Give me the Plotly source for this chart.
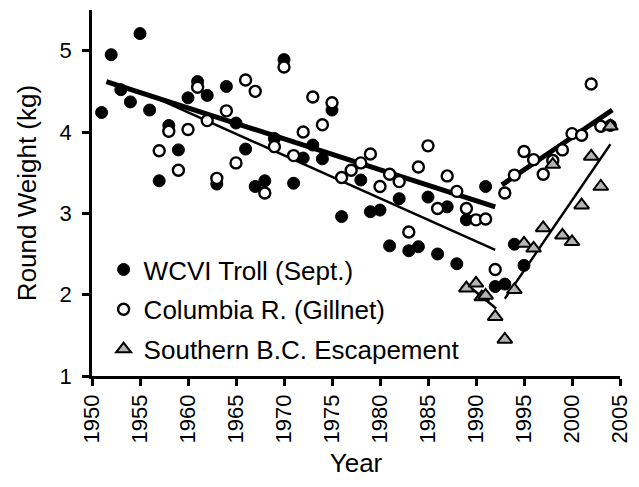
import plotly.graph_objects as go

# WCVI Troll (Sept.) - filled circles
wcvi_years = [1951, 1952, 1953, 1954, 1955, 1956, 1957, 1958, 1959, 1960, 1961, 1962, 1963, 1964,
              1965, 1966, 1967, 1968, 1969, 1970, 1971, 1972, 1973, 1974, 1975, 1976, 1978, 1979,
              1980, 1981, 1982, 1983, 1984, 1985, 1986, 1987, 1988, 1989, 1991, 1992, 1993, 1994,
              1995, 2004]
wcvi_vals = [4.24, 4.95, 4.52, 4.37, 5.21, 4.27, 3.40, 4.08, 3.78, 4.42, 4.62, 4.45, 3.36, 4.56,
             4.11, 3.79, 3.33, 3.40, 3.92, 4.89, 3.37, 3.68, 3.84, 3.67, 4.27, 2.96, 3.41, 3.02,
             3.04, 2.60, 3.18, 2.54, 2.59, 3.20, 2.50, 3.08, 2.38, 2.92, 3.33, 2.10, 2.13, 2.62,
             2.36, 4.08]

# Columbia R. (Gillnet) - open circles
col_years = [1957, 1958, 1959, 1960, 1961, 1962, 1963, 1964, 1965, 1966, 1967, 1968, 1969, 1970,
             1971, 1972, 1973, 1974, 1975, 1976, 1977, 1978, 1979, 1980, 1981, 1982, 1983, 1984,
             1985, 1986, 1987, 1988, 1989, 1990, 1991, 1992, 1993, 1994, 1995, 1996, 1997, 1998,
             1999, 2000, 2001, 2002, 2003]
col_vals = [3.77, 4.01, 3.53, 4.03, 4.55, 4.14, 3.43, 4.26, 3.62, 4.64, 4.50, 3.25, 3.82, 4.80,
            3.71, 4.00, 4.43, 4.09, 4.36, 3.44, 3.53, 3.62, 3.73, 3.33, 3.48, 3.39, 2.77, 3.57,
            3.83, 3.06, 3.46, 3.27, 3.06, 2.92, 2.93, 2.31, 3.25, 3.47, 3.76, 3.66, 3.48, 3.65,
            3.78, 3.98, 3.96, 4.59, 4.07]

# Southern B.C. Escapement - grey triangles
sbc_years = [1989, 1990, 1990.6, 1991, 1992, 1993, 1994, 1995, 1996, 1997, 1998, 1999, 2000,
             2001, 2002, 2003, 2004]
sbc_vals = [2.08, 2.14, 1.97, 1.99, 1.73, 1.45, 2.06, 2.63, 2.57, 2.82, 3.60, 2.73, 2.65,
            3.10, 3.70, 3.33, 4.07]

# Trend lines (end points)
wcvi_trend_years = [1951.5, 1992]
wcvi_trend_vals = [4.62, 3.08]
col_trend1_years = [1957, 1992]
col_trend1_vals = [4.40, 2.55]
col_trend2_years = [1992.7, 2004.2]
col_trend2_vals = [3.35, 4.27]
sbc_trend1_years = [1989.3, 1992.1]
sbc_trend1_vals = [2.10, 1.83]
sbc_trend2_years = [1993, 2004]
sbc_trend2_vals = [1.95, 3.85]

x_ticks = list(range(1950, 2006, 5))
y_ticks = [1, 2, 3, 4, 5]

FONT = "Arial, Liberation Sans, Helvetica, sans-serif"

fig = go.Figure()

# trend lines
for xs, ys, w in [(wcvi_trend_years, wcvi_trend_vals, 5),
                  (col_trend1_years, col_trend1_vals, 2.4),
                  (col_trend2_years, col_trend2_vals, 5),
                  (sbc_trend1_years, sbc_trend1_vals, 2.4),
                  (sbc_trend2_years, sbc_trend2_vals, 2.4)]:
    fig.add_trace(go.Scatter(x=xs, y=ys, mode="lines", line=dict(color="black", width=w),
                             showlegend=False, hoverinfo="skip"))

fig.add_trace(go.Scatter(x=wcvi_years, y=wcvi_vals, mode="markers", name="WCVI Troll (Sept.)",
                         legendgroup="a",
                         marker=dict(symbol="circle", size=12, color="black",
                                     line=dict(color="black", width=1))))
fig.add_trace(go.Scatter(x=col_years, y=col_vals, mode="markers", name="Columbia R. (Gillnet)",
                         legendgroup="b",
                         marker=dict(symbol="circle", size=11, color="white",
                                     line=dict(color="black", width=2.4))))
fig.add_trace(go.Scatter(x=sbc_years, y=sbc_vals, mode="markers", name="Southern B.C. Escapement",
                         legendgroup="c",
                         marker=dict(symbol="triangle-up", size=13, color="#b4b4b4",
                                     line=dict(color="black", width=2))))

fig.update_layout(
    width=631, height=479,
    margin=dict(l=84, r=19, t=2, b=111),
    paper_bgcolor="white", plot_bgcolor="white",
    font=dict(family=FONT, size=22, color="black"),
    showlegend=True,
    legend=dict(x=0.022, y=0.355, xanchor="left", yanchor="top",
                font=dict(family=FONT, size=26, color="black"),
                bgcolor="rgba(0,0,0,0)", traceorder="grouped", tracegroupgap=3,
                itemsizing="trace"),
    xaxis=dict(range=[1950, 2005], tickmode="array", tickvals=x_ticks,
               ticktext=[str(t) for t in x_ticks], tickangle=-90,
               showline=True, linecolor="black", linewidth=2.5, mirror=False,
               ticks="outside", ticklen=7, tickwidth=2.5, tickcolor="black",
               showgrid=False, zeroline=False, automargin=False,
               tickfont=dict(family=FONT, size=22),
               title=dict(text="Year", font=dict(family=FONT, size=26), standoff=12)),
    yaxis=dict(range=[1, 5.5], tickmode="array", tickvals=y_ticks,
               showline=True, linecolor="black", linewidth=2.5,
               ticks="outside", ticklen=7, tickwidth=2.5, tickcolor="black",
               ticklabelstandoff=6, automargin=False,
               showgrid=False, zeroline=False,
               tickfont=dict(family=FONT, size=22),
               title=dict(text="Round Weight (kg)", font=dict(family=FONT, size=26), standoff=16)),
)

fig.write_html("out.html")
